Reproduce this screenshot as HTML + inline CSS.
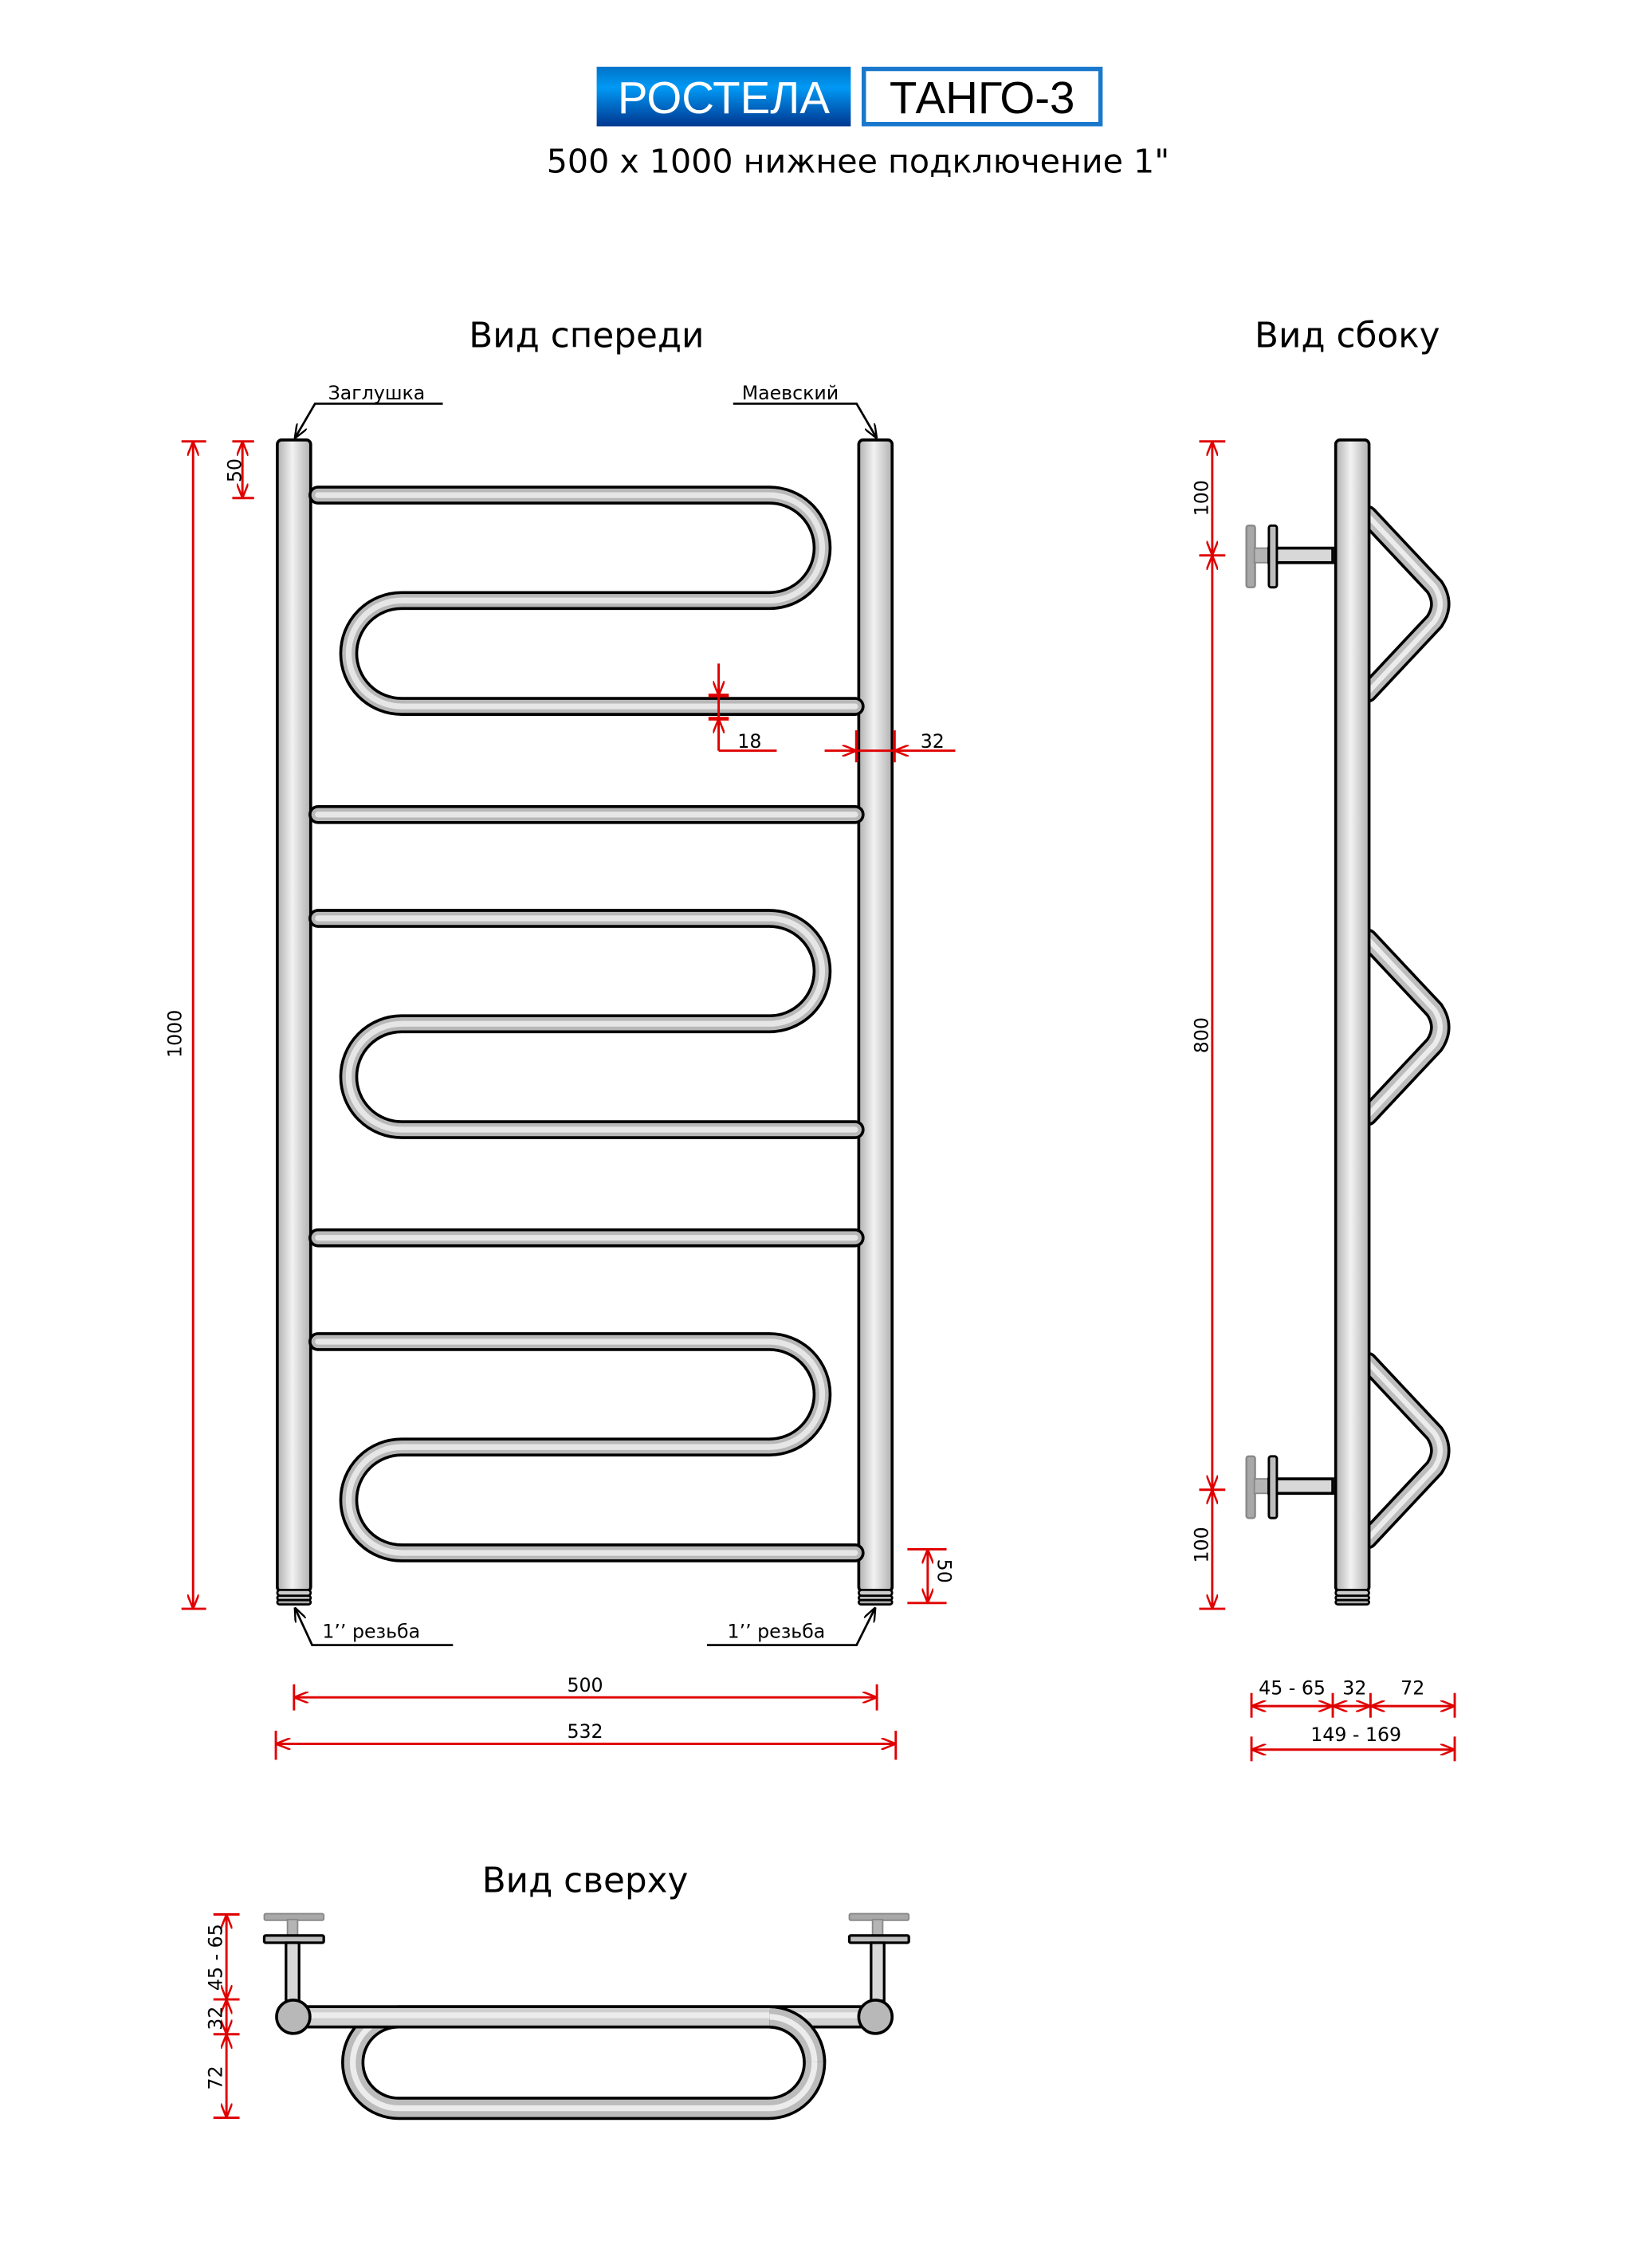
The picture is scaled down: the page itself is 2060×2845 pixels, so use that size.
<!DOCTYPE html>
<html><head><meta charset="utf-8"><style>
html,body{margin:0;padding:0;background:#fff}
svg{display:block}
text{font-family:"DejaVu Sans","Liberation Sans",sans-serif;fill:#000}
</style></head><body>
<svg width="2060" height="2845" viewBox="0 0 1131 1562" preserveAspectRatio="none" xmlns="http://www.w3.org/2000/svg">
<defs>
<linearGradient id="gh" x1="0" x2="1" y1="0" y2="0">
<stop offset="0" stop-color="#b0b0b0"/><stop offset="0.45" stop-color="#f2f2f2"/><stop offset="0.6" stop-color="#e0e0e0"/><stop offset="1" stop-color="#b0b0b0"/></linearGradient>
<linearGradient id="blue" x1="0" x2="0" y1="0" y2="1">
<stop offset="0" stop-color="#0073c8"/><stop offset="0.35" stop-color="#0099f5"/><stop offset="1" stop-color="#00368f"/></linearGradient>
<marker id="ar" viewBox="0 0 10 8" refX="10" refY="4" markerWidth="10" markerHeight="8" markerUnits="userSpaceOnUse" orient="auto-start-reverse">
<path d="M0,0 L10,4 L0,8 M2,4 L10,4" stroke="#e00000" stroke-width="1.4" fill="none"/></marker>
<marker id="ak" viewBox="0 0 10 8" refX="10" refY="4" markerWidth="10" markerHeight="8" markerUnits="userSpaceOnUse" orient="auto">
<path d="M0,0 L10,4 L0,8" stroke="#000" stroke-width="1.3" fill="none"/></marker>
<path id="s" d="M 219 341 L 530 341 A 36.3 36.3 0 0 1 530 413.6 L 276.6 413.6 A 36.45 36.45 0 0 0 276.6 486.5 L 589 486.5"/>
<path id="b" d="M 219 561 L 589 561"/>
<path id="d" d="M 942 355 L 988 404 Q 996 416 988 428 L 942 477"/>
</defs>

<!-- header -->
<rect x="411" y="46" width="175" height="41" fill="url(#blue)"/>
<text x="498.5" y="78" font-size="31" text-anchor="middle" style="font-family:'Liberation Sans',sans-serif;fill:#fff">РОСТЕЛА</text>
<rect x="595" y="47.5" width="163" height="38" fill="#fff" stroke="#1a78cc" stroke-width="3"/>
<text x="676.5" y="78" font-size="31" text-anchor="middle" style="font-family:'Liberation Sans',sans-serif">ТАНГО-3</text>
<text x="591" y="119" font-size="22.6" text-anchor="middle">500 x 1000 нижнее подключение 1"</text>

<text x="404" y="239" font-size="24" text-anchor="middle">Вид спереди</text>
<text x="928" y="239" font-size="24" text-anchor="middle">Вид сбоку</text>
<text x="403" y="1303" font-size="24" text-anchor="middle">Вид сверху</text>

<!-- front posts -->
<g stroke="#000" stroke-width="2">
<rect x="191" y="303" width="23" height="793" rx="3" fill="url(#gh)"/>
<rect x="591.5" y="303" width="23" height="793" rx="3" fill="url(#gh)"/>
<rect x="191" y="1095" width="23" height="4" rx="2" fill="#ccc" stroke-width="1.5"/>
<rect x="191" y="1099" width="23" height="3" rx="1.5" fill="#ccc" stroke-width="1.5"/>
<rect x="191" y="1102" width="23" height="3" rx="1.5" fill="#aaa" stroke-width="1.5"/>
<rect x="591.5" y="1095" width="23" height="4" rx="2" fill="#ccc" stroke-width="1.5"/>
<rect x="591.5" y="1099" width="23" height="3" rx="1.5" fill="#ccc" stroke-width="1.5"/>
<rect x="591.5" y="1102" width="23" height="3" rx="1.5" fill="#aaa" stroke-width="1.5"/>
</g>
<!-- front tubes -->
<g fill="none" stroke-linecap="round">
<g id="grp">
<use href="#s" stroke="#000" stroke-width="13"/>
<use href="#s" stroke="#b8b8b8" stroke-width="9"/>
<use href="#s" stroke="#e6e6e6" stroke-width="4"/>
<use href="#b" stroke="#000" stroke-width="13"/>
<use href="#b" stroke="#b8b8b8" stroke-width="9"/>
<use href="#b" stroke="#e6e6e6" stroke-width="4"/>
</g>
<use href="#grp" transform="translate(0,291.5)"/>
<g transform="translate(0,583)">
<use href="#s" stroke="#000" stroke-width="13"/>
<use href="#s" stroke="#b8b8b8" stroke-width="9"/>
<use href="#s" stroke="#e6e6e6" stroke-width="4"/>
</g>
</g>

<!-- front annotations -->
<g stroke="#000" stroke-width="1.5" fill="none">
<path d="M305 278 L217 278 L203 302" marker-end="url(#ak)"/>
<path d="M505 278 L590 278 L604 302" marker-end="url(#ak)"/>
<path d="M312 1133 L215 1133 L203 1107" marker-end="url(#ak)"/>
<path d="M487 1133 L590 1133 L603 1107" marker-end="url(#ak)"/>
</g>
<text x="226" y="275" font-size="13">Заглушка</text>
<text x="511" y="275" font-size="13">Маевский</text>
<text x="222" y="1128" font-size="13">1’’ резьба</text>
<text x="501" y="1128" font-size="13">1’’ резьба</text>

<!-- front dims -->
<g stroke="#e00000" stroke-width="1.6" fill="none">
<line x1="125" y1="304" x2="142" y2="304"/><line x1="125" y1="1108" x2="142" y2="1108"/>
<line x1="133" y1="304" x2="133" y2="1108" marker-start="url(#ar)" marker-end="url(#ar)"/>
<line x1="160" y1="304" x2="175" y2="304"/><line x1="160" y1="343" x2="175" y2="343"/>
<line x1="167" y1="304" x2="167" y2="343" marker-start="url(#ar)" marker-end="url(#ar)"/>
<line x1="625" y1="1067" x2="652" y2="1067"/><line x1="625" y1="1104" x2="652" y2="1104"/>
<line x1="639" y1="1067" x2="639" y2="1104" marker-start="url(#ar)" marker-end="url(#ar)"/>
<line x1="202.5" y1="1160" x2="202.5" y2="1178"/><line x1="604" y1="1160" x2="604" y2="1178"/>
<line x1="202.5" y1="1169" x2="604" y2="1169" marker-start="url(#ar)" marker-end="url(#ar)"/>
<line x1="190" y1="1192" x2="190" y2="1212"/><line x1="617" y1="1192" x2="617" y2="1212"/>
<line x1="190" y1="1201" x2="617" y2="1201" marker-start="url(#ar)" marker-end="url(#ar)"/>
<line x1="495" y1="457" x2="495" y2="479" marker-end="url(#ar)"/>
<path d="M495 517 L495 495" marker-end="url(#ar)"/>
<path d="M495 517 L535 517"/>
<line x1="488" y1="479" x2="502" y2="479" stroke-width="2.5"/><line x1="488" y1="495" x2="502" y2="495" stroke-width="2.5"/>
<line x1="495" y1="479" x2="495" y2="495"/>
<line x1="568" y1="517" x2="590" y2="517" marker-end="url(#ar)"/>
<line x1="658" y1="517" x2="616" y2="517" marker-end="url(#ar)"/>
<line x1="590" y1="503" x2="590" y2="525" stroke-width="2"/><line x1="616" y1="503" x2="616" y2="525" stroke-width="2"/>
<line x1="590" y1="517" x2="616" y2="517"/>
</g>
<text x="125" y="712" font-size="13" text-anchor="middle" transform="rotate(-90 125 712)">1000</text>
<text x="161" y="329" font-size="13" text-anchor="middle" transform="rotate(-90 161 324)">50</text>
<text x="646" y="1090" font-size="13" text-anchor="middle" transform="rotate(90 650 1086)">50</text>
<text x="403" y="1165" font-size="13" text-anchor="middle">500</text>
<text x="403" y="1197" font-size="13" text-anchor="middle">532</text>
<text x="508" y="515" font-size="13">18</text>
<text x="634" y="515" font-size="13">32</text>

<!-- side view -->
<g fill="none" stroke-linecap="round" stroke-linejoin="round">
<g id="dg">
<use href="#d" stroke="#000" stroke-width="14"/>
<use href="#d" stroke="#bdbdbd" stroke-width="10"/>
<use href="#d" stroke="#ececec" stroke-width="3.5"/>
</g>
<use href="#dg" transform="translate(0,291.5)"/>
<use href="#dg" transform="translate(0,583)"/>
</g>
<g id="br">
<rect x="858.5" y="362" width="6" height="42.5" rx="1.5" fill="#a8a8a8" stroke="#888" stroke-width="1.3"/>
<rect x="864" y="377.5" width="10" height="10" fill="#b5b5b5" stroke="#888" stroke-width="1"/>
<rect x="874" y="377.5" width="44" height="10" fill="#d8d8d8" stroke="#000" stroke-width="2"/>
<rect x="874" y="362" width="5.5" height="42.5" rx="1.5" fill="#bdbdbd" stroke="#000" stroke-width="1.6"/>
</g>
<use href="#br" transform="translate(0,641)"/>
<g stroke="#000" stroke-width="2">
<rect x="920" y="303" width="23" height="793" rx="3" fill="url(#gh)"/>
<rect x="920" y="1095" width="23" height="4" rx="2" fill="#ccc" stroke-width="1.5"/>
<rect x="920" y="1099" width="23" height="3" rx="1.5" fill="#ccc" stroke-width="1.5"/>
<rect x="920" y="1102" width="23" height="3" rx="1.5" fill="#aaa" stroke-width="1.5"/>
</g>
<g stroke="#e00000" stroke-width="1.6" fill="none">
<line x1="826" y1="304" x2="844" y2="304"/><line x1="826" y1="382.5" x2="844" y2="382.5"/>
<line x1="826" y1="1026" x2="844" y2="1026"/><line x1="826" y1="1108" x2="844" y2="1108"/>
<line x1="835" y1="304" x2="835" y2="382.5" marker-start="url(#ar)" marker-end="url(#ar)"/>
<line x1="835" y1="382.5" x2="835" y2="1026" marker-start="url(#ar)" marker-end="url(#ar)"/>
<line x1="835" y1="1026" x2="835" y2="1108" marker-start="url(#ar)" marker-end="url(#ar)"/>
<line x1="862" y1="1166" x2="862" y2="1183"/><line x1="918" y1="1166" x2="918" y2="1183"/>
<line x1="944" y1="1166" x2="944" y2="1183"/><line x1="1002" y1="1166" x2="1002" y2="1183"/>
<line x1="862" y1="1175" x2="918" y2="1175" marker-start="url(#ar)" marker-end="url(#ar)"/>
<line x1="918" y1="1175" x2="944" y2="1175" marker-start="url(#ar)" marker-end="url(#ar)"/>
<line x1="944" y1="1175" x2="1002" y2="1175" marker-start="url(#ar)" marker-end="url(#ar)"/>
<line x1="862" y1="1196" x2="862" y2="1213"/><line x1="1002" y1="1196" x2="1002" y2="1213"/>
<line x1="862" y1="1205" x2="1002" y2="1205" marker-start="url(#ar)" marker-end="url(#ar)"/>
</g>
<text x="828" y="347" font-size="13" text-anchor="middle" transform="rotate(-90 828 343)">100</text>
<text x="828" y="717" font-size="13" text-anchor="middle" transform="rotate(-90 828 713)">800</text>
<text x="828" y="1068" font-size="13" text-anchor="middle" transform="rotate(-90 828 1064)">100</text>
<text x="890" y="1167" font-size="13" text-anchor="middle">45 - 65</text>
<text x="933" y="1167" font-size="13" text-anchor="middle">32</text>
<text x="973" y="1167" font-size="13" text-anchor="middle">72</text>
<text x="934" y="1199" font-size="13" text-anchor="middle">149 - 169</text>

<!-- top view -->
<g fill="none">
<rect x="243" y="1389" width="318" height="63" rx="31.5" stroke="#000" stroke-width="16"/>
<rect x="243" y="1389" width="318" height="63" rx="31.5" stroke="#bcbcbc" stroke-width="12"/>
<rect x="243" y="1389" width="318" height="63" rx="31.5" stroke="#ececec" stroke-width="4"/>
</g>
<g id="tb">
<rect x="182" y="1318" width="41" height="4.5" rx="1" fill="#a8a8a8" stroke="#888" stroke-width="1"/>
<rect x="198" y="1322" width="7" height="11" fill="#b5b5b5" stroke="#888" stroke-width="1"/>
<rect x="182" y="1333" width="41" height="5" rx="1" fill="#bdbdbd" stroke="#000" stroke-width="1.8"/>
<rect x="197" y="1338" width="9" height="40" fill="#d8d8d8" stroke="#000" stroke-width="1.8"/>
</g>
<use href="#tb" transform="translate(403,0)"/>
<rect x="202" y="1382" width="401" height="14" fill="#d0d0d0" stroke="#000" stroke-width="2"/>
<line x1="202" y1="1388" x2="603" y2="1388" stroke="#ececec" stroke-width="4"/>
<path d="M 530 1389 A 31.5 31.5 0 0 1 561 1420" fill="none" stroke="#000" stroke-width="16"/>
<path d="M 530 1389 A 31.5 31.5 0 0 1 561 1420" fill="none" stroke="#bcbcbc" stroke-width="12"/>
<path d="M 530 1389 A 31.5 31.5 0 0 1 561 1420" fill="none" stroke="#ececec" stroke-width="4"/>
<circle cx="202" cy="1389" r="11.5" fill="#b8b8b8" stroke="#000" stroke-width="2"/>
<circle cx="603" cy="1389" r="11.5" fill="#b8b8b8" stroke="#000" stroke-width="2"/>
<g stroke="#e00000" stroke-width="1.6" fill="none">
<line x1="147" y1="1318.5" x2="165" y2="1318.5"/><line x1="147" y1="1377" x2="165" y2="1377"/>
<line x1="147" y1="1401" x2="165" y2="1401"/><line x1="147" y1="1458.5" x2="165" y2="1458.5"/>
<line x1="156" y1="1318.5" x2="156" y2="1377" marker-start="url(#ar)" marker-end="url(#ar)"/>
<line x1="156" y1="1377" x2="156" y2="1401" marker-start="url(#ar)" marker-end="url(#ar)"/>
<line x1="156" y1="1401" x2="156" y2="1458.5" marker-start="url(#ar)" marker-end="url(#ar)"/>
</g>
<text x="149" y="1352" font-size="13" text-anchor="middle" transform="rotate(-90 149 1348)">45 - 65</text>
<text x="149" y="1394" font-size="13" text-anchor="middle" transform="rotate(-90 149 1390)">32</text>
<text x="149" y="1435" font-size="13" text-anchor="middle" transform="rotate(-90 149 1431)">72</text>
</svg>
</body></html>
